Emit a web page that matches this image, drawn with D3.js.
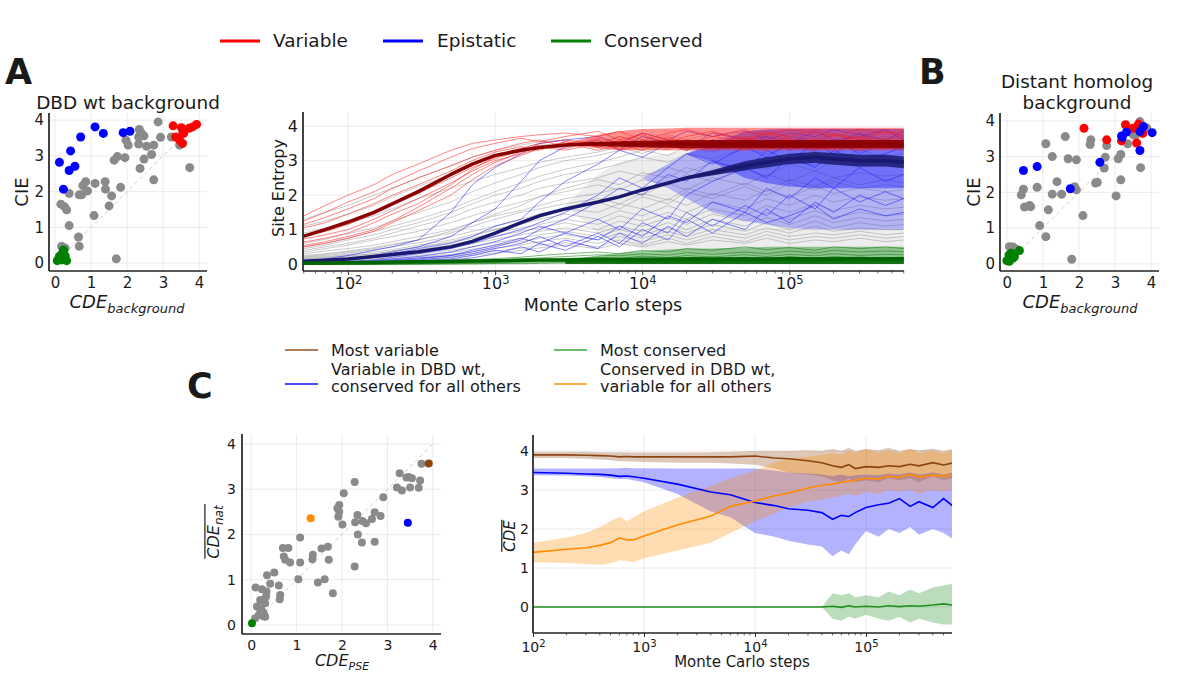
<!DOCTYPE html>
<html><head><meta charset="utf-8">
<script src="https://cdn.jsdelivr.net/npm/d3@7"></script>
<style>body{margin:0;background:#fff} text{font-family:"DejaVu Sans",sans-serif;fill:#1a1a1a}</style>
</head><body><svg id="fig" width="1196" height="673"></svg>
<script>
// ---------------- DATA ----------------
const linTicks = [0,1,2,3,4];
const logTicksTop = [100,1000,10000,100000];
const logTicksC = [100,1000,10000,100000];
const yTicksC = [0,1,2,3,4];

// Panel A scatter (CDE_background, CIE)
const aGray = [[2.86,3.95],[2.93,3.52],[2.34,3.74],[2.40,3.63],[2.47,3.56],[2.32,3.53],[2.32,3.33],[2.54,3.27],[2.74,3.30],[2.68,3.04],[2.47,2.91],[2.36,2.65],[2.74,2.33],[1.97,3.44],[2.03,3.30],[1.94,2.95],[1.73,2.98],[1.64,2.88],[1.82,2.12],[1.57,1.88],[1.50,1.60],[1.39,2.28],[1.40,2.07],[1.11,2.23],[1.08,1.33],[0.85,2.28],[0.90,2.02],[0.77,2.17],[0.74,1.91],[0.67,1.91],[0.39,1.95],[0.16,1.65],[0.26,1.58],[0.32,1.49],[0.39,1.05],[0.65,0.73],[0.67,0.47],[1.70,0.12],[3.74,2.67],[3.46,3.30],[3.23,3.53],[0.18,0.47],[0.28,0.42]];
const aBlue = [[0.12,2.82],[0.23,2.07],[0.43,3.14],[0.39,2.59],[0.55,2.71],[0.71,3.53],[1.11,3.81],[1.34,3.63],[1.89,3.65],[2.08,3.69]];
const aRed = [[3.28,3.84],[3.35,3.53],[3.51,3.79],[3.46,3.44],[3.54,3.35],[3.57,3.63],[3.72,3.77],[3.82,3.81],[3.93,3.88],[3.42,3.49],[3.55,3.67]];
const aGreen = [[0.06,0.07],[0.18,0.09],[0.32,0.07],[0.23,0.33],[0.28,0.20],[0.17,0.23],[0.23,0.37],[0.12,0.19]];

// Panel B scatter
const bGray = [[0.07,0.48],[0.17,0.47],[0.26,0.41],[0.40,1.93],[0.46,2.09],[0.49,1.59],[0.63,1.63],[0.66,1.60],[0.84,2.14],[0.91,1.07],[1.08,0.76],[1.08,3.36],[1.15,1.51],[1.26,3.00],[1.26,1.95],[1.39,2.30],[1.52,1.95],[1.62,3.56],[1.70,2.94],[1.80,0.13],[1.88,2.16],[1.93,2.91],[1.93,2.07],[2.11,1.35],[2.33,3.47],[2.31,3.34],[2.46,2.26],[2.51,2.28],[2.70,2.68],[2.73,2.98],[2.77,3.31],[3.03,1.90],[3.09,2.94],[3.16,3.06],[3.16,2.35],[3.35,3.36],[3.51,3.61],[3.69,3.98],[3.71,2.69],[3.75,3.86],[3.58,3.61],[3.88,3.80]];
const bBlue = [[0.46,2.61],[0.84,2.72],[1.76,2.10],[2.58,2.84],[3.20,3.54],[3.32,3.69],[3.69,3.17],[3.69,3.70],[3.79,3.84],[4.03,3.67],[3.18,3.58]];
const bRed = [[2.14,3.79],[2.77,3.47],[3.18,3.44],[3.29,3.89],[3.49,3.79],[3.57,3.81],[3.65,3.91],[3.60,3.38],[3.77,3.65]];
const bGreen = [[0.00,0.09],[0.09,0.13],[0.17,0.16],[0.06,0.25],[0.12,0.30],[0.35,0.37],[0.21,0.20],[0.07,0.07]];

// Panel C scatter (CDE_PSE, mean CDE_nat)
const cGray = [[3.75,3.56],[3.27,3.35],[3.21,3.04],[3.32,2.97],[3.42,3.26],[3.47,3.27],[3.54,3.24],[3.50,3.04],[3.72,3.19],[3.69,3.03],[2.28,3.16],[2.04,2.91],[1.90,2.58],[1.94,2.65],[1.94,2.50],[1.92,2.39],[2.01,2.22],[2.29,2.27],[2.34,2.43],[2.45,2.30],[2.53,2.25],[2.66,2.34],[2.72,2.49],[2.85,2.41],[2.91,2.82],[2.35,2.00],[2.44,1.82],[2.72,1.84],[2.28,1.29],[1.08,1.93],[0.70,1.70],[0.82,1.70],[0.72,1.51],[0.75,1.44],[0.86,1.38],[1.08,1.38],[1.36,1.55],[1.35,1.45],[1.55,1.69],[1.69,1.73],[1.71,1.44],[1.47,0.94],[1.62,1.01],[1.80,0.70],[1.04,1.01],[0.51,1.16],[0.35,1.10],[0.42,0.91],[0.61,0.87],[0.64,0.66],[0.63,0.57],[0.10,0.83],[0.24,0.79],[0.34,0.74],[0.33,0.63],[0.20,0.55],[0.31,0.48],[0.13,0.41],[0.19,0.37],[0.24,0.29],[0.28,0.26],[0.31,0.18],[0.17,0.22],[0.09,0.15],[0.23,0.33],[0.26,0.20]];
const cBrown = [[3.91,3.57]];
const cOrange = [[1.31,2.36]];
const cBlue = [[3.45,2.26]];
const cGreen = [[0.02,0.04]];

// Site entropy trajectories (Monte Carlo steps)
const entropySteps = [50,70,100,150,200,300,500,700,1000,1500,2000,3000,5000,7000,10000,15000,20000,30000,50000,70000,100000,150000,200000,300000,450000,600000];
const grayRuns = [
 [1.3,1.5,1.7,2.0,2.2,2.5,2.85,3.1,3.3,3.45,3.55,3.6,3.5,3.7,3.55,3.75,3.6,3.8,3.65,3.85,3.7,3.6,3.8,3.65,3.9,3.7],
 [1.1,1.25,1.45,1.7,1.95,2.25,2.6,2.9,3.15,3.35,3.5,3.4,3.6,3.45,3.7,3.5,3.35,3.6,3.5,3.75,3.55,3.7,3.5,3.8,3.6,3.75],
 [0.9,1.05,1.2,1.4,1.6,1.9,2.2,2.4,2.6,2.8,2.95,3.1,3.25,3.4,3.2,3.5,3.3,3.55,3.4,3.6,3.45,3.3,3.55,3.4,3.6,3.5],
 [0.45,0.55,0.7,0.85,1.0,1.2,1.5,1.75,2.0,2.2,2.4,2.6,2.75,2.9,3.1,2.95,3.2,3.05,3.35,3.2,3.4,3.25,3.45,3.3,3.5,3.4],
 [0.4,0.5,0.6,0.75,0.9,1.1,1.35,1.6,1.8,2.0,2.2,2.35,2.5,2.7,2.55,2.8,2.65,2.95,2.8,3.1,2.9,3.2,3.0,3.3,3.1,3.2],
 [0.35,0.45,0.55,0.7,0.8,0.95,1.2,1.4,1.6,1.8,1.95,2.1,2.3,2.15,2.45,2.3,2.6,2.4,2.75,2.55,2.9,2.7,3.0,2.8,2.95,2.85],
 [0.3,0.38,0.45,0.55,0.65,0.8,1.0,1.2,1.4,1.55,1.7,1.9,2.05,2.2,2.0,2.35,2.15,2.5,2.3,2.6,2.4,2.7,2.5,2.65,2.55,2.6],
 [0.25,0.3,0.38,0.48,0.58,0.7,0.9,1.1,1.3,1.5,1.6,1.75,1.9,1.75,2.05,1.85,2.2,2.0,2.35,2.1,2.45,2.25,2.5,2.3,2.45,2.35],
 [0.2,0.25,0.32,0.42,0.5,0.62,0.8,0.95,1.1,1.3,1.45,1.6,1.5,1.75,1.6,1.9,1.7,2.05,1.85,2.15,1.95,2.25,2.05,2.2,2.1,2.15],
 [0.18,0.22,0.28,0.35,0.42,0.55,0.7,0.85,1.0,1.15,1.3,1.45,1.3,1.55,1.4,1.7,1.5,1.8,1.6,1.9,1.7,2.0,1.8,1.95,1.85,1.9],
 [0.15,0.2,0.25,0.3,0.37,0.48,0.62,0.75,0.9,1.05,1.15,1.3,1.15,1.4,1.25,1.5,1.3,1.6,1.4,1.7,1.5,1.75,1.55,1.7,1.6,1.65],
 [0.12,0.16,0.2,0.26,0.32,0.42,0.55,0.68,0.8,0.95,1.05,1.2,1.0,1.25,1.1,1.35,1.15,1.45,1.25,1.5,1.3,1.55,1.35,1.5,1.4,1.45],
 [0.1,0.13,0.17,0.22,0.28,0.36,0.48,0.6,0.72,0.85,0.95,1.05,0.9,1.1,0.95,1.2,1.0,1.3,1.1,1.35,1.15,1.4,1.2,1.35,1.25,1.3],
 [0.08,0.1,0.14,0.18,0.23,0.3,0.4,0.5,0.62,0.75,0.85,0.95,0.8,1.0,0.85,1.05,0.9,1.15,0.95,1.2,1.0,1.25,1.05,1.2,1.1,1.15],
 [0.06,0.08,0.11,0.15,0.19,0.25,0.34,0.43,0.55,0.65,0.75,0.85,0.7,0.9,0.75,0.95,0.8,1.0,0.85,1.05,0.9,1.1,0.95,1.05,1.0,1.0],
 [0.05,0.07,0.09,0.12,0.16,0.21,0.28,0.36,0.46,0.55,0.65,0.75,0.6,0.8,0.65,0.85,0.7,0.9,0.75,0.95,0.8,0.9,0.85,0.95,0.85,0.9],
 [0.04,0.05,0.07,0.1,0.13,0.17,0.23,0.3,0.38,0.46,0.55,0.62,0.5,0.7,0.55,0.75,0.6,0.8,0.65,0.85,0.7,0.8,0.75,0.85,0.75,0.8],
 [0.03,0.04,0.06,0.08,0.1,0.14,0.19,0.25,0.32,0.4,0.47,0.55,0.45,0.6,0.5,0.65,0.55,0.7,0.6,0.75,0.6,0.7,0.65,0.75,0.65,0.7],
 [0.5,0.6,0.75,0.95,1.1,1.3,1.6,1.85,2.1,2.35,2.55,2.75,2.95,3.1,3.3,3.15,3.4,3.25,3.5,3.35,3.6,3.45,3.55,3.4,3.6,3.5],
 [0.6,0.72,0.88,1.05,1.25,1.5,1.8,2.1,2.35,2.6,2.8,3.0,3.15,3.3,3.45,3.3,3.55,3.4,3.65,3.5,3.7,3.55,3.75,3.6,3.7,3.65],
 [0.22,0.28,0.35,0.45,0.55,0.7,0.95,1.2,1.45,1.7,1.95,2.2,2.45,2.3,2.65,2.5,2.8,2.6,2.95,2.75,3.05,2.85,3.1,2.95,3.05,3.0],
 [0.14,0.18,0.23,0.3,0.38,0.5,0.65,0.8,1.0,1.2,1.4,1.6,1.8,1.6,1.95,1.75,2.1,1.9,2.25,2.0,2.35,2.15,2.4,2.2,2.3,2.25]
];
const blueRuns = [
 [0.1,0.15,0.25,0.4,0.5,0.7,1.5,2.3,2.8,3.2,3.5,3.6,3.7,3.5,3.8,3.6,3.85,3.7,3.9,3.6,3.8,3.7,3.9,3.75,3.6,3.85],
 [0.05,0.1,0.15,0.25,0.35,0.5,0.8,1.2,1.6,2.4,3.0,3.4,3.6,3.3,3.7,3.5,3.4,3.8,3.6,3.7,3.5,3.85,3.6,3.7,3.9,3.6],
 [0.05,0.08,0.12,0.2,0.3,0.45,0.6,0.8,1.1,1.3,1.8,2.4,2.9,3.3,3.1,3.5,3.3,3.6,3.4,3.7,3.3,3.6,3.5,3.8,3.4,3.6],
 [0.03,0.05,0.08,0.12,0.2,0.3,0.45,0.6,0.8,1.0,1.2,1.5,2.0,2.5,2.2,2.8,3.2,2.9,3.4,3.1,3.5,3.3,3.6,3.2,3.5,3.4],
 [0.02,0.04,0.06,0.1,0.15,0.22,0.35,0.5,0.65,0.9,1.1,0.9,1.3,1.0,1.6,1.3,2.0,2.4,2.8,2.5,3.1,2.8,3.3,3.0,3.2,3.4],
 [0.02,0.03,0.05,0.08,0.12,0.18,0.25,0.4,0.55,0.75,0.6,0.9,0.7,1.1,0.8,1.4,1.2,1.8,1.5,2.2,1.9,2.5,2.2,2.8,2.4,2.6],
 [0.02,0.03,0.04,0.06,0.08,0.12,0.2,0.3,0.45,0.6,0.8,0.5,0.9,0.6,1.2,0.9,1.5,1.1,1.7,1.4,2.0,1.6,2.2,1.8,2.1,1.9],
 [0.01,0.02,0.03,0.05,0.07,0.1,0.15,0.25,0.4,0.3,0.6,0.4,0.8,0.5,1.0,0.7,1.3,0.9,1.5,1.2,1.4,1.7,1.3,1.6,1.4,1.5],
 [0.01,0.02,0.03,0.04,0.06,0.08,0.12,0.18,0.3,0.5,0.35,0.7,0.45,0.9,0.6,1.1,0.8,1.3,1.0,1.6,1.2,1.8,1.5,2.0,1.7,1.9],
 [0.02,0.03,0.05,0.07,0.1,0.15,0.25,0.35,0.5,0.7,1.0,1.3,1.8,2.2,2.0,2.6,2.4,3.0,2.7,3.3,3.0,3.5,3.2,3.6,3.4,3.3]
];
const redRuns = [
 [1.4,1.7,2.0,2.3,2.6,2.9,3.3,3.5,3.6,3.7,3.75,3.8,3.7,3.85,3.6,3.8,3.9,3.7,3.85,3.75,3.9,3.8,3.7,3.9,3.8,3.85],
 [1.25,1.5,1.8,2.1,2.35,2.7,3.1,3.35,3.5,3.65,3.55,3.7,3.85,3.6,3.75,3.5,3.7,3.85,3.6,3.8,3.7,3.9,3.75,3.6,3.85,3.7],
 [1.15,1.35,1.6,1.9,2.2,2.5,2.85,3.1,3.3,3.5,3.6,3.4,3.65,3.5,3.8,3.6,3.45,3.7,3.55,3.8,3.6,3.5,3.75,3.65,3.5,3.7],
 [1.05,1.2,1.45,1.75,2.0,2.3,2.7,3.0,3.25,3.4,3.3,3.55,3.4,3.6,3.45,3.7,3.5,3.4,3.65,3.5,3.4,3.6,3.5,3.7,3.45,3.6],
 [0.83,0.95,1.15,1.45,1.7,2.05,2.5,2.8,3.05,3.3,3.45,3.35,3.6,3.3,3.5,3.35,3.6,3.5,3.3,3.55,3.65,3.35,3.5,3.4,3.6,3.35],
 [0.73,0.85,1.0,1.3,1.55,1.9,2.35,2.7,3.0,3.2,3.35,3.5,3.3,3.45,3.3,3.55,3.35,3.6,3.4,3.3,3.5,3.4,3.3,3.55,3.4,3.45],
 [0.64,0.75,0.9,1.2,1.45,1.75,2.3,2.75,3.1,3.35,3.5,3.6,3.45,3.7,3.5,3.4,3.6,3.3,3.55,3.45,3.35,3.55,3.45,3.3,3.5,3.4],
 [0.54,0.65,0.8,1.0,1.25,1.65,2.2,2.6,2.95,3.25,3.4,3.3,3.5,3.35,3.6,3.45,3.3,3.5,3.7,3.4,3.55,3.3,3.6,3.45,3.35,3.55],
 [0.5,0.6,0.75,0.95,1.2,1.55,2.0,2.45,2.85,3.15,3.35,3.55,3.4,3.5,3.4,3.65,3.5,3.55,3.4,3.6,3.45,3.65,3.4,3.55,3.65,3.5]
];
const greenRuns = [
 [0.0,0.01,0.02,0.03,0.05,0.07,0.1,0.13,0.16,0.2,0.25,0.3,0.35,0.3,0.4,0.35,0.45,0.4,0.5,0.42,0.48,0.4,0.5,0.45,0.5,0.45],
 [0.0,0.0,0.01,0.02,0.03,0.05,0.07,0.1,0.12,0.15,0.18,0.22,0.27,0.24,0.3,0.26,0.33,0.28,0.35,0.3,0.38,0.32,0.4,0.35,0.38,0.36],
 [0.0,0.0,0.0,0.01,0.02,0.03,0.05,0.07,0.09,0.11,0.13,0.16,0.2,0.17,0.23,0.19,0.25,0.21,0.27,0.22,0.28,0.24,0.3,0.25,0.28,0.27],
 [0,0,0,0,0.01,0.02,0.03,0.04,0.06,0.08,0.1,0.12,0.14,0.12,0.16,0.13,0.18,0.15,0.2,0.16,0.21,0.17,0.22,0.18,0.2,0.19],
 [0,0,0,0,0,0.01,0.02,0.03,0.04,0.05,0.07,0.09,0.1,0.08,0.12,0.1,0.13,0.11,0.15,0.12,0.14,0.12,0.15,0.13,0.14,0.13],
 [0,0,0,0,0,0,0.01,0.02,0.02,0.03,0.04,0.05,0.07,0.05,0.08,0.06,0.09,0.07,0.1,0.08,0.1,0.09,0.11,0.09,0.1,0.1],
 [0,0,0,0,0,0,0,0,0.01,0.01,0.02,0.03,0.04,0.03,0.05,0.04,0.06,0.05,0.07,0.05,0.07,0.06,0.08,0.06,0.07,0.07]
];
const redMean   = [0.81,1.0,1.22,1.5,1.75,2.1,2.6,2.9,3.15,3.3,3.38,3.45,3.5,3.48,3.47,3.5,3.48,3.47,3.49,3.46,3.48,3.47,3.49,3.47,3.48,3.47];
const blueMean  = [0.08,0.11,0.15,0.22,0.28,0.36,0.5,0.66,0.9,1.2,1.4,1.6,1.8,1.95,2.15,2.35,2.5,2.65,2.85,2.95,3.05,3.1,3.05,3.0,3.0,2.95];
const greenMean = [0.03,0.03,0.04,0.05,0.06,0.07,0.08,0.09,0.1,0.11,0.12,0.12,0.13,0.13,0.14,0.13,0.15,0.14,0.15,0.14,0.16,0.15,0.15,0.16,0.15,0.16];
// dense fluctuation envelopes in the late regime
const bandSteps   = [3000,5000,7000,10000,15000,20000,30000,50000,70000,100000,150000,200000,300000,450000,600000];
const grayBandLo  = [1.7,0.9,0.6,0.45,0.38,0.33,0.3,0.28,0.25,0.25,0.25,0.25,0.25,0.25,0.25];
const grayBandHi  = [1.7,2.6,2.95,3.1,3.2,3.3,3.4,3.45,3.5,3.5,3.55,3.55,3.6,3.6,3.6];
const blueBandLo  = [2.5,2.5,2.5,2.5,2.2,1.9,1.5,1.25,1.15,1.05,1.0,1.0,1.0,1.0,1.0];
const blueBandHi  = [2.5,2.5,2.5,2.5,2.9,3.2,3.6,3.85,3.9,3.92,3.92,3.92,3.92,3.92,3.92];
const blueInLo    = [3.2,3.2,3.2,3.2,3.2,3.2,2.95,2.5,2.35,2.25,2.2,2.2,2.2,2.2,2.2];
const blueInHi    = [3.2,3.2,3.2,3.2,3.2,3.2,3.45,3.85,3.9,3.92,3.92,3.92,3.92,3.92,3.92];
const redBandLo   = [3.5,3.35,3.3,3.3,3.3,3.3,3.3,3.3,3.3,3.3,3.3,3.3,3.3,3.3,3.3];
const redBandHi   = [3.5,3.75,3.86,3.92,3.93,3.95,3.95,3.95,3.95,3.95,3.95,3.95,3.95,3.95,3.95];
const redCoreLo   = [3.45,3.42,3.4,3.38,3.37,3.36,3.36,3.36,3.36,3.36,3.36,3.36,3.36,3.36,3.36];
const redCoreHi   = [3.47,3.53,3.56,3.58,3.59,3.6,3.6,3.6,3.6,3.6,3.6,3.6,3.6,3.6,3.6];
const navyCoreLo  = [1.6,1.8,1.95,2.13,2.32,2.45,2.57,2.72,2.8,2.9,2.93,2.88,2.83,2.83,2.78];
const navyCoreHi  = [1.6,1.8,1.95,2.17,2.38,2.55,2.73,2.98,3.1,3.2,3.25,3.22,3.17,3.17,3.12];
const greenBandLo = [0.1,0.05,0.02,0.01,0,0,0,0,0,0,0,0,0,0,0];
const greenBandHi = [0.12,0.25,0.32,0.38,0.42,0.45,0.45,0.48,0.5,0.5,0.5,0.5,0.5,0.5,0.5];
const greenCoreHi = [0.13,0.15,0.17,0.18,0.19,0.2,0.2,0.2,0.2,0.2,0.2,0.2,0.2,0.2,0.2];

// Panel C trajectories of mean CDE
const cSteps = [100,200,300,400,500,600,700,800,1000,2000,4000,6000,10000,15000,20000,30000,40000,50000,60000,70000,80000,100000,130000,160000,200000,250000,300000,400000,500000,600000];
const brownMean = [3.9,3.9,3.89,3.88,3.87,3.85,3.86,3.85,3.85,3.85,3.85,3.85,3.87,3.82,3.80,3.75,3.70,3.62,3.58,3.65,3.55,3.6,3.58,3.62,3.6,3.66,3.62,3.7,3.64,3.69];
const brownLo = [3.82,3.82,3.8,3.78,3.76,3.74,3.74,3.73,3.72,3.7,3.7,3.68,3.65,3.55,3.45,3.4,3.35,3.25,3.2,3.3,3.2,3.25,3.2,3.3,3.25,3.3,3.2,3.35,3.25,3.3];
const brownHi = [3.98,3.98,3.98,3.97,3.97,3.97,3.97,3.96,3.96,3.96,3.97,3.98,4.0,4.0,4.0,4.02,4.0,4.05,4.0,4.08,4.0,4.05,4.02,4.08,4.0,4.05,4.02,4.06,4.0,4.05];
const bluecMean = [3.45,3.43,3.41,3.40,3.38,3.35,3.36,3.34,3.3,3.15,2.95,2.88,2.68,2.6,2.52,2.48,2.42,2.25,2.35,2.32,2.42,2.55,2.62,2.66,2.78,2.58,2.7,2.55,2.78,2.6];
const bluecLo = [3.38,3.37,3.35,3.33,3.3,3.28,3.28,3.25,3.2,2.9,2.45,2.3,1.9,1.8,1.7,1.6,1.55,1.3,1.45,1.35,1.6,1.95,1.8,2.0,1.9,2.05,1.85,2.0,1.9,1.75];
const bluecHi = [3.55,3.55,3.55,3.55,3.56,3.56,3.57,3.56,3.56,3.55,3.55,3.55,3.55,3.5,3.45,3.42,3.4,3.35,3.4,3.35,3.38,3.4,3.38,3.42,3.4,3.45,3.4,3.45,3.4,3.45];
const orangeMean = [1.4,1.48,1.52,1.58,1.65,1.77,1.72,1.72,1.82,2.1,2.33,2.58,2.72,2.85,2.92,3.05,3.12,3.15,3.2,3.22,3.25,3.3,3.28,3.35,3.32,3.4,3.33,3.38,3.35,3.4];
const orangeLo = [1.15,1.13,1.1,1.08,1.12,1.2,1.18,1.15,1.25,1.45,1.65,1.9,2.2,2.4,2.55,2.7,2.75,2.8,2.85,2.9,2.85,2.95,2.9,3.0,2.95,3.0,2.9,3.0,2.95,3.0];
const orangeHi = [1.65,1.78,1.9,2.05,2.2,2.32,2.2,2.3,2.45,2.8,3.1,3.3,3.5,3.7,3.8,3.85,3.9,3.95,3.9,4.0,3.95,4.05,3.95,4.0,3.95,4.05,3.95,4.0,3.95,4.0];
const greencMean = [0,0,0,0,0,0,0,0,0,0,0,0,0,0,0,0,0,0.02,-0.01,0.03,0.0,0.02,0.0,0.03,0.01,0.03,0.02,0.05,0.08,0.05];
const greencLo = [0,0,0,0,0,0,0,0,0,0,0,0,0,0,0,0,0,-0.3,-0.35,-0.25,-0.3,-0.2,-0.3,-0.35,-0.25,-0.4,-0.3,-0.4,-0.45,-0.45];
const greencHi = [0,0,0,0,0,0,0,0,0,0,0,0,0,0,0,0,0,0.35,0.3,0.35,0.25,0.3,0.25,0.4,0.3,0.45,0.35,0.5,0.55,0.6];

const topLegend = [["Variable","#ff0000"],["Epistatic","#0000ff"],["Conserved","#008000"]];
const cLegend = [["#8b4513",["Most variable"]],["#2ca02c",["Most conserved"]],
  ["#0000ff",["Variable in DBD wt,","conserved for all others"]],["#ff8c00",["Conserved in DBD wt,","variable for all others"]]];

// ---------------- DRAWING ----------------
const fig = d3.select('#fig');
fig.append('rect').attr('width',1196).attr('height',673).attr('fill','#fff');
const INK = '#1a1a1a';

function panel(o){
  const g = fig.append('g');
  const x = (o.log ? d3.scaleLog() : d3.scaleLinear()).domain(o.xd).range(o.xr);
  const y = d3.scaleLinear().domain(o.yd).range(o.yr);
  const [xa,xb] = o.xr, [ya,yb] = o.yr;
  const grid = g.append('g').attr('stroke','#e6e6e6').attr('stroke-width',0.8);
  grid.selectAll(null).data(o.xt).join('line').attr('x1',d=>x(d)).attr('x2',d=>x(d)).attr('y1',ya).attr('y2',yb);
  grid.selectAll(null).data(o.yt).join('line').attr('y1',d=>y(d)).attr('y2',d=>y(d)).attr('x1',xa).attr('x2',xb);
  const id = 'clip'+Math.round(xa)+'_'+Math.round(ya);
  fig.append('clipPath').attr('id',id).append('rect').attr('x',xa).attr('y',yb).attr('width',xb-xa).attr('height',ya-yb);
  const plot = g.append('g').attr('clip-path',`url(#${id})`);
  return {g,plot,x,y,o};
}
function axes(p){
  const {g,x,y,o} = p;
  const [xa,xb] = x.range(), [ya,yb] = y.range();
  const bx = g.append('g').attr('transform',`translate(0,${ya})`)
    .call(d3.axisBottom(x).tickValues(o.xt).tickSize(o.log?4:0).tickPadding(o.padX).tickFormat(o.log?()=> '':d3.format('d')));
  bx.attr('font-size',o.fs).attr('font-family','DejaVu Sans');
  bx.select('.domain').remove();
  bx.selectAll('.tick line').attr('stroke','#333');
  bx.selectAll('.tick text').attr('fill',INK);
  if(o.log){
    bx.selectAll('.tick text').each(function(d){
      const t = d3.select(this);
      t.append('tspan').text('10');
      t.append('tspan').attr('dy','-0.5em').attr('font-size','0.72em').text(Math.round(Math.log10(d)));
    });
    const [d0,d1] = x.domain(); const minors=[];
    for(let e=Math.floor(Math.log10(d0)); e<=Math.ceil(Math.log10(d1)); e++)
      for(let m=2;m<=9;m++){ const v=m*Math.pow(10,e); if(v>=d0&&v<=d1) minors.push(v); }
    g.append('g').selectAll('line').data(minors).join('line')
      .attr('x1',d=>x(d)).attr('x2',d=>x(d)).attr('y1',ya).attr('y2',ya+2.5).attr('stroke','#444').attr('stroke-width',0.8);
  }
  const ly = g.append('g').attr('transform',`translate(${xa},0)`)
    .call(d3.axisLeft(y).tickValues(o.yt).tickSize(0).tickPadding(o.padY).tickFormat(d3.format('d')));
  ly.attr('font-size',o.fs).attr('font-family','DejaVu Sans');
  ly.select('.domain').remove();
  ly.selectAll('.tick text').attr('fill',INK);
  g.append('line').attr('x1',xa).attr('x2',xa).attr('y1',ya).attr('y2',yb).attr('stroke','#222').attr('stroke-width',1.7);
  g.append('line').attr('x1',xa).attr('x2',xb).attr('y1',ya).attr('y2',ya).attr('stroke','#222').attr('stroke-width',1.7);
}
function dots(p, data, color, r){
  p.plot.append('g').selectAll('circle').data(data).join('circle')
    .attr('cx',d=>p.x(d[0])).attr('cy',d=>p.y(d[1])).attr('r',r).attr('fill',color);
}
function diag(p){
  p.plot.append('line').attr('x1',p.x(0)).attr('y1',p.y(0)).attr('x2',p.x(4)).attr('y2',p.y(4))
    .attr('stroke','#cfcfcf').attr('stroke-width',1).attr('stroke-dasharray','4,3');
}
function subLabel(x, y, main, sub, fs, subfs){
  const t = fig.append('text').attr('x',x).attr('y',y).attr('text-anchor','middle').attr('font-size',fs).attr('font-style','italic');
  t.append('tspan').text(main);
  t.append('tspan').attr('dy',fs*0.28).attr('font-size',subfs).text(sub);
  return t;
}
function rotLabel(x, y, parts, fs, overline){
  const g = fig.append('g').attr('transform',`translate(${x},${y}) rotate(-90)`);
  const t = g.append('text').attr('text-anchor','middle').attr('font-size',fs);
  parts.forEach(pt=>{ const s=t.append('tspan').text(pt.t); if(pt.italic) s.attr('font-style','italic'); if(pt.size) s.attr('font-size',pt.size); if(pt.dy) s.attr('dy',pt.dy); });
  if(overline){
    const bb = t.node().getBBox();
    g.append('line').attr('x1',bb.x).attr('x2',bb.x+bb.width).attr('y1',-fs*0.88).attr('y2',-fs*0.88).attr('stroke',INK).attr('stroke-width',1.2);
  }
}

// ---- Panel A
const pA = panel({xd:[-0.17,4.22], xr:[49,207], yd:[-0.22,4.2], yr:[271,113], xt:linTicks, yt:linTicks, fs:15, padX:6, padY:5});
diag(pA);
dots(pA,aGray,'#8a8a8a',4.5); dots(pA,aBlue,'#0000ff',4.5); dots(pA,aRed,'#ff0000',4.5); dots(pA,aGreen,'#008000',4.5);
axes(pA);
fig.append('text').attr('x',128).attr('y',109).attr('text-anchor','middle').attr('font-size',18.4).text('DBD wt background');
subLabel(127,308,'CDE','background',18,13);
rotLabel(28,192,[{t:'CIE'}],18,false);

// ---- Panel B
const pB = panel({xd:[-0.19,4.22], xr:[1000,1159], yd:[-0.2,4.22], yr:[271,113], xt:linTicks, yt:linTicks, fs:15, padX:6, padY:5});
diag(pB);
dots(pB,bGray,'#8a8a8a',4.5); dots(pB,bRed,'#ff0000',4.5); dots(pB,bBlue,'#0000ff',4.5); dots(pB,bGreen,'#008000',4.5);
axes(pB);
fig.append('text').attr('x',1077).attr('y',88).attr('text-anchor','middle').attr('font-size',18.4).text('Distant homolog');
fig.append('text').attr('x',1077).attr('y',109).attr('text-anchor','middle').attr('font-size',18.4).text('background');
subLabel(1080,308,'CDE','background',18,13);
rotLabel(980,192,[{t:'CIE'}],18,false);

// ---- Top middle: site entropy
const pT = panel({log:true, xd:[49.4,602000], xr:[303,904], yd:[-0.2,4.41], yr:[271,112], xt:logTicksTop, yt:linTicks, fs:16, padX:3, padY:5});
{
  const line = d3.line().x((d,i)=>pT.x(entropySteps[i])).y(d=>pT.y(d));
  const area = (lo,hi)=>d3.area().x((d,i)=>pT.x(bandSteps[i])).y0((d,i)=>pT.y(lo[i])).y1((d,i)=>pT.y(hi[i]));
  const P = pT.plot;
  const band = (lo,hi,c,op)=>P.append('path').datum(bandSteps).attr('d',area(lo,hi)).attr('fill',c).attr('opacity',op);
  const runs = (data,c,op)=>P.append('g').selectAll('path').data(data).join('path').attr('d',line).attr('fill','none').attr('stroke',c).attr('stroke-opacity',op).attr('stroke-width',1);
  band(grayBandLo,grayBandHi,'#9a9a9a',0.18);
  runs(grayRuns,'#8c8c8c',0.45);
  band(blueBandLo,blueBandHi,'#3030ff',0.3);
  band(blueInLo,blueInHi,'#1010ff',0.4);
  runs(blueRuns,'#2020ff',0.55);
  band(redBandLo,redBandHi,'#ff2020',0.5);
  runs(redRuns,'#ff2020',0.55);
  band(greenBandLo,greenBandHi,'#1a8a1a',0.45);
  runs(greenRuns,'#108010',0.55);
  [[redMean,'#8b0000'],[blueMean,'#191970'],[greenMean,'#006400']].forEach(([m,c])=>{
    P.append('path').datum(m).attr('d',line).attr('fill','none').attr('stroke',c).attr('stroke-width',3.5).attr('stroke-linejoin','round');
  });
  band(redCoreLo,redCoreHi,'#8b0000',0.9);
  band(navyCoreLo,navyCoreHi,'#191970',0.85);
  band(bandSteps.map(()=>0),greenCoreHi,'#006400',0.85);
}
axes(pT);
fig.append('text').attr('x',603).attr('y',311).attr('text-anchor','middle').attr('font-size',17.5).text('Monte Carlo steps');
rotLabel(284,188,[{t:'Site Entropy'}],16,false);

// ---- Top legend
{
  const xs=[[220,273],[383,437],[551,604]];
  topLegend.forEach(([lab,c],i)=>{
    fig.append('line').attr('x1',xs[i][0]).attr('x2',xs[i][0]+40).attr('y1',41).attr('y2',41).attr('stroke',c).attr('stroke-width',3);
    fig.append('text').attr('x',xs[i][1]).attr('y',47).attr('font-size',18.5).text(lab);
  });
}

// ---- Panel letters
fig.append('text').attr('x',5).attr('y',84).attr('font-size',35).attr('font-weight','bold').text('A');
fig.append('text').attr('x',919).attr('y',84).attr('font-size',35).attr('font-weight','bold').text('B');
fig.append('text').attr('x',187).attr('y',398).attr('font-size',35).attr('font-weight','bold').text('C');

// ---- C legend
{
  const pos=[[285,331,350,[356]],[554,600,350,[356]],[285,331,384,[375,392]],[554,600,384,[375,392]]];
  cLegend.forEach(([c,lines],i)=>{
    const [lx,tx,ly,tys]=pos[i];
    fig.append('line').attr('x1',lx).attr('x2',lx+33).attr('y1',ly).attr('y2',ly).attr('stroke',c).attr('stroke-opacity',0.7).attr('stroke-width',2);
    lines.forEach((s,j)=>fig.append('text').attr('x',tx).attr('y',tys[j]).attr('font-size',16).text(s));
  });
}

// ---- Panel C scatter
const pC = panel({xd:[-0.2,4.18], xr:[242,441], yd:[-0.2,4.22], yr:[634,434], xt:linTicks, yt:linTicks, fs:14, padX:6, padY:6});
diag(pC);
dots(pC,cGray,'#8a8a8a',4); dots(pC,cBrown,'#8b4513',4); dots(pC,cOrange,'#ff8c00',4); dots(pC,cBlue,'#0000ff',4); dots(pC,cGreen,'#008000',4);
axes(pC);
subLabel(342,666,'CDE','PSE',16,11);
rotLabel(219,532,[{t:'CDE',italic:true},{t:'nat',italic:true,size:12,dy:4}],16,true);

// ---- Panel C trajectories
const pD = panel({log:true, xd:[100,595662], xr:[533,952], yd:[-0.667,4.41], yr:[633,435], xt:logTicksC, yt:yTicksC, fs:14, padX:5, padY:4});
{
  const P = pD.plot;
  const line = d3.line().x((d,i)=>pD.x(cSteps[i])).y(d=>pD.y(d));
  const area = (lo,hi)=>d3.area().x((d,i)=>pD.x(cSteps[i])).y0((d,i)=>pD.y(lo[i])).y1((d,i)=>pD.y(hi[i]));
  const sets = [[brownLo,brownHi,brownMean,'#8b4513'],[bluecLo,bluecHi,bluecMean,'#0000ff'],[orangeLo,orangeHi,orangeMean,'#ff8c00'],[greencLo,greencHi,greencMean,'#1f8f1f']];
  sets.forEach(([lo,hi,m,c])=>{
    P.append('path').datum(cSteps).attr('d',area(lo,hi)).attr('fill',c).attr('opacity',0.3);
  });
  sets.forEach(([lo,hi,m,c])=>{
    P.append('path').datum(m).attr('d',line).attr('fill','none').attr('stroke',c).attr('stroke-width',1.6);
  });
}
axes(pD);
fig.append('text').attr('x',742).attr('y',667).attr('text-anchor','middle').attr('font-size',15).text('Monte Carlo steps');
rotLabel(515,536,[{t:'CDE',italic:true}],15,true);
</script></body></html>
